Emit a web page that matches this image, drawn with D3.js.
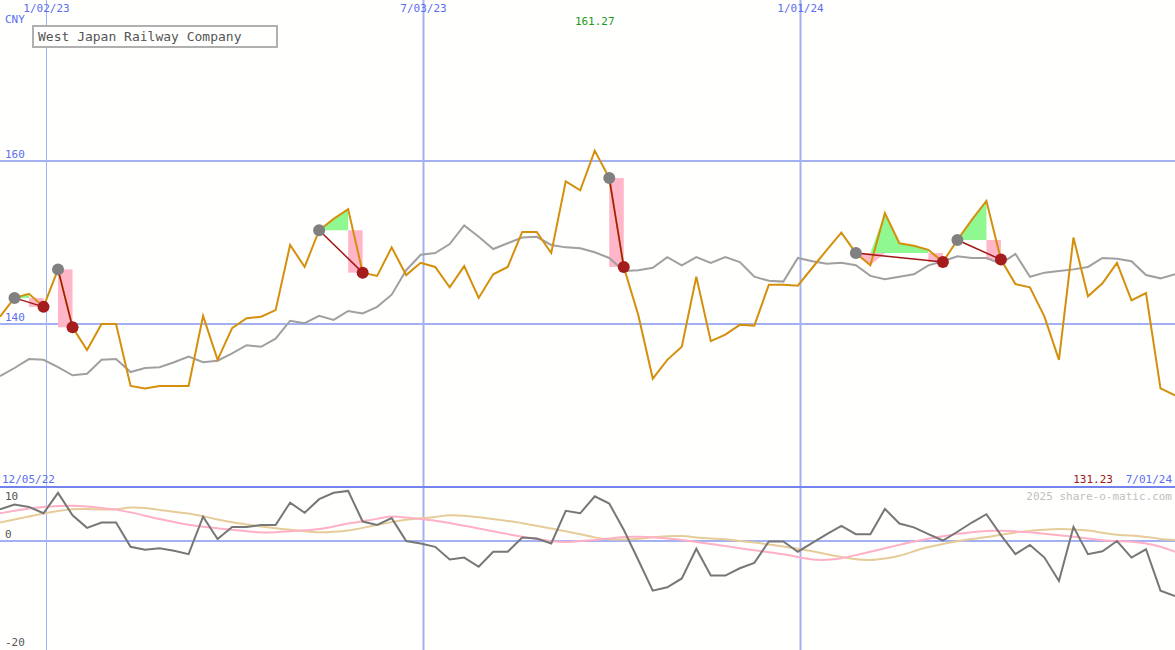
<!DOCTYPE html>
<html>
<head>
<meta charset="utf-8">
<script src="https://cdn.jsdelivr.net/npm/d3@7"></script>
<style>
body { margin: 0; background: #fffffe; }
svg { display: block; font-family: "DejaVu Sans Mono", monospace; }
</style>
</head>
<body>
<svg id="chart" width="1175" height="650"></svg>
<script>
// weekly closes (CNY)
let price = [140.9,143.2,143.7,142.1,146.7,139.6,136.8,140.0,140.0,132.4,132.1,132.4,132.4,132.4,141.0,135.6,
    139.5,140.7,140.9,141.7,149.7,147.0,151.5,152.9,154.1,146.3,145.9,149.4,146.0,147.5,147.0,144.5,147.1,143.2,
    146.1,147.0,151.3,151.3,148.7,157.5,156.4,161.27,157.9,147.0,141.1,133.3,135.6,137.2,145.8,137.9,138.7,139.9,
    139.8,144.8,144.8,144.7,146.9,149.1,151.2,148.7,147.2,153.6,149.9,149.6,149.1,147.6,150.3,152.8,155.1,147.9,
    144.9,144.5,140.9,135.6,150.6,143.4,145.0,147.5,142.9,143.8,132.1,131.23];
let average = [133.6,134.6,135.7,135.6,134.7,133.7,133.9,135.6,135.7,134.1,134.6,134.7,135.3,136.0,135.3,135.5,
    136.4,137.4,137.2,138.2,140.4,140.1,141.0,140.5,141.6,141.3,142.1,143.6,146.6,148.5,148.7,149.8,152.1,150.7,
    149.2,149.9,150.6,150.7,149.7,149.4,149.3,148.8,148.1,146.5,146.6,146.9,148.2,147.2,148.2,147.5,148.2,147.6,
    145.8,145.3,145.2,148.1,147.7,147.4,147.5,147.2,145.9,145.5,145.8,146.1,147.2,147.7,148.3,148.1,148.1,147.4,
    148.6,145.8,146.3,146.5,146.7,147.0,148.1,148.0,147.7,146.0,145.6,146.1];
let momentum = [6.5,7.5,7.0,5.7,9.9,5.3,2.7,3.8,3.8,-1.2,-1.8,-1.5,-2.0,-2.7,5.0,0.4,2.9,2.9,3.3,3.3,7.9,5.8,
    8.6,9.9,10.3,4.0,3.3,4.7,0.0,-0.5,-1.2,-3.8,-3.4,-5.3,-2.2,-2.2,0.7,0.5,-0.5,6.2,5.7,9.2,7.7,2.3,-3.9,-10.2,
    -9.5,-7.7,-1.6,-7.1,-7.1,-5.6,-4.5,-0.1,-0.1,-2.2,-0.4,1.4,3.1,1.4,1.4,6.6,3.6,2.8,1.4,0.1,1.9,3.8,5.5,1.2,
    -2.7,-0.8,-3.4,-8.2,2.9,-2.7,-2.1,0.0,-3.4,-1.7,-10.2,-11.3];
let slowPink = [5.7,6.2,6.7,7.0,7.2,7.3,7.1,6.8,6.5,5.9,5.2,4.5,3.9,3.3,2.9,2.6,2.3,2.0,1.7,1.8,2.0,2.2,2.4,
    3.0,3.6,4.1,4.5,5.2,4.8,4.5,4.2,3.7,3.1,2.6,2.0,1.4,0.9,0.4,-0.1,-0.3,0.0,0.2,0.5,0.9,0.9,0.8,0.5,0.2,-0.2,
    -0.6,-1.0,-1.5,-1.9,-2.3,-2.7,-3.3,-3.9,-3.9,-3.6,-2.9,-2.2,-1.5,-0.8,-0.1,0.5,1.0,1.5,1.8,2.1,2.1,2.0,1.8,
    1.5,1.2,0.9,0.5,0.1,0.0,-0.1,-0.5,-1.1,-2.2];
let slowTan = [3.8,4.4,5.0,5.7,6.2,6.6,6.6,6.5,6.4,7.0,6.8,6.4,6.0,5.7,5.1,4.4,3.8,3.4,3.0,2.6,2.3,2.0,1.7,1.9,
    2.1,2.7,3.3,3.9,4.4,4.7,4.9,5.4,5.2,4.9,4.5,4.1,3.7,3.1,2.6,2.0,1.4,0.7,0.3,0.3,0.4,0.8,1.0,1.1,0.7,0.5,0.4,
    0.0,-0.3,-0.7,-1.1,-1.6,-2.1,-2.7,-3.3,-3.8,-4.0,-3.6,-3.1,-2.1,-1.2,-0.6,0.0,0.4,0.8,1.3,1.8,2.1,2.3,2.5,
    2.4,2.2,1.7,1.2,1.2,0.8,0.4,0.2];
// buy/sell signal pairs (week index)
let signals = [[1, 3], [4, 5], [22, 25], [42, 43], [59, 65], [66, 69]];
let gridDates = ['2023-01-02', '2023-07-03', '2024-01-01'];
let gridLabels = ['1/02/23', '7/03/23', '1/01/24'];
let priceTicks = [160, 140];
let momentumTicks = [10, 0, -20];

let start = new Date(2022, 11, 11);
let dates = price.map((d, i) => d3.timeDay.offset(start, i * 7));

let svg = d3.select('#chart');
let W = 1175;
let x = d3.scaleTime().domain([dates[0], dates[dates.length - 1]]).range([0, W]);
let y = d3.scaleLinear().domain([120, 179.75]).range([487, 0]);
let y2 = d3.scaleLinear().domain([11.1, -22.4]).range([487, 650]);

let gridColor = '#a3b1f2';
let blue = '#5a6ef0';

// vertical grid
gridDates.forEach((d, i) => {
    let gx = Math.round(x(new Date(d))) + 0.5;
    svg.append('line').attr('x1', gx).attr('x2', gx).attr('y1', 0).attr('y2', 650)
        .attr('stroke', gridColor).attr('stroke-width', i == 0 ? 1 : 2);
    svg.append('text').attr('x', gx).attr('y', 12).attr('text-anchor', 'middle')
        .attr('font-size', 11).attr('fill', blue).text(gridLabels[i]);
});

// horizontal grid
priceTicks.forEach(t => {
    svg.append('line').attr('x1', 0).attr('x2', W).attr('y1', y(t)).attr('y2', y(t))
        .attr('stroke', gridColor).attr('stroke-width', 2);
    svg.append('text').attr('x', 5).attr('y', y(t) - 3).attr('font-size', 11).attr('fill', blue).text(t);
});
svg.append('line').attr('x1', 0).attr('x2', W).attr('y1', y2(0)).attr('y2', y2(0))
    .attr('stroke', gridColor).attr('stroke-width', 2);
svg.append('line').attr('x1', 0).attr('x2', W).attr('y1', 487).attr('y2', 487)
    .attr('stroke', '#7384ee').attr('stroke-width', 2);

svg.append('text').attr('x', 5).attr('y', 23).attr('font-size', 11).attr('fill', blue).text('CNY');

// signal fills
let xi = i => x(dates[i]);
signals.forEach(([s, e]) => {
    let level = price[s];
    let seg = d3.range(s, e).map(i => ({ i, v: price[i] }));
    let areaUp = d3.area().x(d => xi(d.i)).y0(y(level)).y1(d => y(Math.max(d.v, level)));
    let areaDn = d3.area().x(d => xi(d.i)).y0(y(level)).y1(d => y(Math.min(d.v, level)));
    svg.append('path').datum(seg).attr('d', areaUp).attr('fill', '#90f890');
    svg.append('path').datum(seg).attr('d', areaDn).attr('fill', '#ffb6c8');
    svg.append('rect').attr('x', xi(e - 1)).attr('width', xi(e) - xi(e - 1))
        .attr('y', y(level)).attr('height', y(price[e]) - y(level)).attr('fill', '#ffb6c8');
});

let line = d3.line().x((d, i) => xi(i)).y(d => y(d));
svg.append('path').datum(average).attr('d', line).attr('fill', 'none')
    .attr('stroke', '#a0a0a0').attr('stroke-width', 2);
svg.append('path').datum(price).attr('d', line).attr('fill', 'none')
    .attr('stroke', '#d4900c').attr('stroke-width', 2);

signals.forEach(([s, e]) => {
    svg.append('line').attr('x1', xi(s)).attr('y1', y(price[s])).attr('x2', xi(e)).attr('y2', y(price[e]))
        .attr('stroke', '#a01818').attr('stroke-width', 1.5);
    svg.append('circle').attr('cx', xi(s)).attr('cy', y(price[s])).attr('r', 6).attr('fill', '#808080');
    svg.append('circle').attr('cx', xi(e)).attr('cy', y(price[e])).attr('r', 6).attr('fill', '#a51c1c');
});

// max label
let iMax = d3.maxIndex(price);
svg.append('text').attr('x', xi(iMax)).attr('y', 25).attr('text-anchor', 'middle')
    .attr('font-size', 11).attr('fill', '#1a9a1a').text(price[iMax].toFixed(2));

// title box
svg.append('rect').attr('x', 33).attr('y', 26).attr('width', 244).attr('height', 21)
    .attr('fill', '#fffffe').attr('stroke', '#b0b0b0').attr('stroke-width', 2);
svg.append('text').attr('x', 38).attr('y', 41).attr('font-size', 13).attr('fill', '#555')
    .text('West Japan Railway Company');

// lower panel
let line2 = d3.line().x((d, i) => xi(i)).y(d => y2(d));
svg.append('path').datum(slowTan).attr('d', line2.curve(d3.curveBasis)).attr('fill', 'none')
    .attr('stroke', '#e6cc98').attr('stroke-width', 2);
svg.append('path').datum(slowPink).attr('d', line2).attr('fill', 'none')
    .attr('stroke', '#ffb0c4').attr('stroke-width', 2);
svg.append('path').datum(momentum).attr('d', line2.curve(d3.curveLinear)).attr('fill', 'none')
    .attr('stroke', '#777').attr('stroke-width', 2);

momentumTicks.forEach(t => {
    svg.append('text').attr('x', 5).attr('y', y2(t) + (t == 0 ? -3 : 8))
        .attr('font-size', 11).attr('fill', '#555').text(t);
});

svg.append('text').attr('x', 2).attr('y', 483).attr('font-size', 11).attr('fill', blue).text('12/05/22');
svg.append('text').attr('x', 1172).attr('y', 483).attr('text-anchor', 'end')
    .attr('font-size', 11).attr('fill', blue).text('7/01/24');
svg.append('text').attr('x', 1113).attr('y', 483).attr('text-anchor', 'end')
    .attr('font-size', 11).attr('fill', '#a01818').text(price[price.length - 1].toFixed(2));
svg.append('text').attr('x', 1172).attr('y', 500).attr('text-anchor', 'end')
    .attr('font-size', 11).attr('fill', '#c0c0c0').text('2025 share-o-matic.com');
</script>
</body>
</html>
